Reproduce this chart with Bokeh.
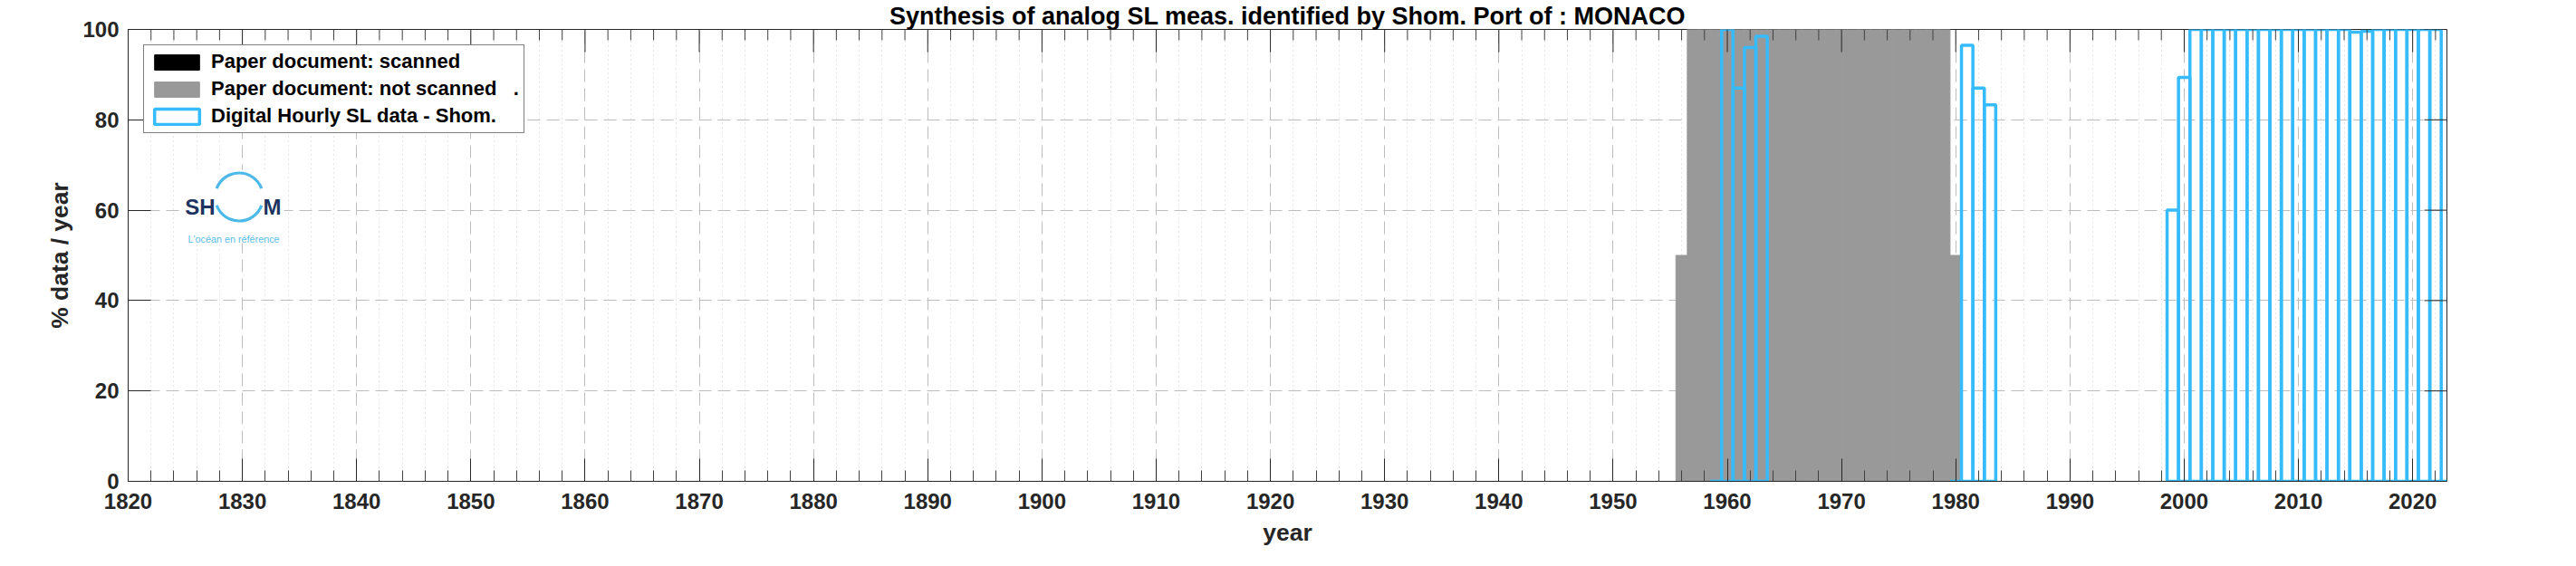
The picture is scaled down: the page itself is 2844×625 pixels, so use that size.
from bokeh.plotting import figure
from bokeh.models import FixedTicker, Range1d, Legend, LegendItem
from bokeh.core.properties import value
from bokeh.embed import file_html
from bokeh.resources import INLINE

# ---------------- data ----------------
title_text = "Synthesis of analog SL meas. identified by Shom. Port of : MONACO"
x_label = "year"
y_label = "% data / year"
legend_labels = ["Paper document: scanned",
                 "Paper document: not scanned\u00a0\u00a0\u00a0.",
                 "Digital Hourly SL data - Shom."]

scanned_years = []
scanned_pct = []

not_scanned_years = [1956, 1957, 1958, 1959, 1960, 1961, 1962, 1963, 1964, 1965,
                     1966, 1967, 1968, 1969, 1970, 1971, 1972, 1973, 1974, 1975,
                     1976, 1977, 1978, 1979, 1980]
not_scanned_pct = [50, 100, 100, 100, 100, 100, 100, 100, 100, 100,
                   100, 100, 100, 100, 100, 100, 100, 100, 100, 100,
                   100, 100, 100, 100, 50]

digital_years = [1959, 1960, 1961, 1962, 1963,
                 1980, 1981, 1982, 1983,
                 1999, 2000, 2001, 2002, 2003, 2004, 2005, 2006, 2007, 2008,
                 2009, 2010, 2011, 2012, 2013, 2014, 2015, 2016, 2017, 2018,
                 2019, 2020, 2021, 2022, 2023]
digital_pct = [0, 100, 87, 96, 98.5,
               0, 96.5, 87, 83.3,
               60, 89.4, 100, 100, 100, 100, 100, 100, 100, 100,
               100, 100, 100, 100, 100, 100, 99.4, 99.6, 100, 100,
               100, 100, 100, 100, 0]

x_major_ticks = [1820, 1830, 1840, 1850, 1860, 1870, 1880, 1890, 1900, 1910,
                 1920, 1930, 1940, 1950, 1960, 1970, 1980, 1990, 2000, 2010, 2020]
x_minor_ticks = [y for y in range(1822, 2023, 2) if y % 10 != 0]
y_ticks = [0, 20, 40, 60, 80, 100]
X0, X1 = 1820, 2023
Y0, Y1 = 0, 100

# ---------------- styling ----------------
FONT = "Liberation Sans"
AX = "#262626"
BLUE = "#36BCFD"
GRAY = "#999999"
FW, FH = 2560, 499
PL, PT = 141, 31   # page position of the frame
MAJ_LEN, MIN_LEN = 25, 12


def xd(px):
    return X0 + (px - PL) / FW * (X1 - X0)


def yd(py):
    return Y0 + (PT + FH - py) / FH * (Y1 - Y0)


p = figure(frame_width=FW, frame_height=FH,
           x_range=Range1d(X0, X1), y_range=Range1d(Y0, Y1),
           output_backend="svg", toolbar_location=None,
           min_border_left=PL, min_border_right=135,
           min_border_top=PT, min_border_bottom=90)
p.outline_line_color = AX
p.outline_line_width = 1

p.title.text = title_text
p.title.align = "center"
p.title.text_font = FONT
p.title.text_font_style = "bold"
p.title.text_font_size = "27px"
p.title.text_color = "black"
p.title.standoff = 0
p.title.offset = 0

xt = FixedTicker(ticks=x_major_ticks, minor_ticks=x_minor_ticks)
yt = FixedTicker(ticks=y_ticks)


def style_axis(ax):
    ax.axis_line_color = AX
    ax.major_tick_line_color = AX
    ax.minor_tick_line_color = "#404040"
    ax.major_tick_out = 0
    ax.minor_tick_out = 0
    ax.major_label_text_font = FONT
    ax.major_label_text_font_style = "bold"
    ax.major_label_text_color = AX
    ax.major_label_text_font_size = "24px"
    ax.axis_label_text_font = FONT
    ax.axis_label_text_font_style = "bold"
    ax.axis_label_text_color = AX
    ax.axis_label_text_font_size = "26.4px"


xa = p.xaxis[0]
xa.ticker = xt
style_axis(xa)
xa.major_tick_in = MAJ_LEN
xa.minor_tick_in = MIN_LEN
xa.major_label_standoff = 13
xa.axis_label = x_label
xa.axis_label_standoff = 8

ya = p.yaxis[0]
ya.ticker = yt
style_axis(ya)
ya.major_tick_in = MAJ_LEN
ya.minor_tick_in = 0
ya.major_label_standoff = 10
ya.axis_label = y_label
ya.axis_label_standoff = 7

# grids
p.xgrid.ticker = xt
p.xgrid.grid_line_color = "#bdbdbd"
p.xgrid.grid_line_dash = "14 7"
p.xgrid.minor_grid_line_color = "#cfcfcf"
p.xgrid.minor_grid_line_dash = "1 4"
p.ygrid.ticker = FixedTicker(ticks=[20, 40, 60, 80])
p.ygrid.grid_line_color = "#bdbdbd"
p.ygrid.grid_line_dash = "14 7"

# logo (white backing box, ring, letters)
p.quad(left=[xd(199)], right=[xd(313)], top=[yd(186)], bottom=[yd(267)],
       fill_color="white", line_color=None)
p.arc(x=[xd(263.5), xd(263.5)], y=[yd(216), yd(216)], radius=26.5,
      radius_units="screen", start_angle=[0.36, 3.50], end_angle=[2.78, 5.92],
      line_color="#4cb9e8", line_width=3.2)
p.text(x=[xd(237)], y=[yd(227)], text=["SH"], text_align="right",
       text_baseline="alphabetic", text_font=value(FONT), text_font_style="bold",
       text_font_size="24px", text_color="#1d3461")
p.text(x=[xd(290)], y=[yd(227)], text=["M"], text_align="left",
       text_baseline="alphabetic", text_font=value(FONT), text_font_style="bold",
       text_font_size="24px", text_color="#1d3461")
p.text(x=[xd(257.5)], y=[yd(262)], text=["L'océan en référence"], text_align="center",
       text_baseline="alphabetic", text_font=value(FONT),
       text_font_size="10.8px", text_color="#5bbde6")

# bars ("scanned" has no data: a NaN placeholder keeps its legend swatch visible)
sx = scanned_years if scanned_years else [float("nan")]
sy = scanned_pct if scanned_pct else [float("nan")]
r_scanned = p.vbar(x=sx, top=sy, width=1, bottom=0,
                   fill_color="black", line_color="black")
r_not = p.vbar(x=not_scanned_years, top=not_scanned_pct, width=1, bottom=0,
               fill_color=GRAY, line_color=GRAY, line_width=1)
r_dig = p.vbar(x=digital_years, top=digital_pct, width=1, bottom=0,
               fill_alpha=0, line_color=BLUE, line_width=3.5)

# inward ticks on the top and right edges of the box
ty_maj = Y1 - MAJ_LEN / FH * (Y1 - Y0)
ty_min = Y1 - MIN_LEN / FH * (Y1 - Y0)
p.segment(x0=x_major_ticks, x1=x_major_ticks, y0=[Y1] * len(x_major_ticks),
          y1=[ty_maj] * len(x_major_ticks), line_color=AX, line_width=1)
p.segment(x0=x_minor_ticks, x1=x_minor_ticks, y0=[Y1] * len(x_minor_ticks),
          y1=[ty_min] * len(x_minor_ticks), line_color="#404040", line_width=1)
rx = X1 - MAJ_LEN / FW * (X1 - X0)
p.segment(x0=[X1] * len(y_ticks), x1=[rx] * len(y_ticks), y0=y_ticks, y1=y_ticks,
          line_color=AX, line_width=1)

legend = Legend(items=[LegendItem(label=legend_labels[0], renderers=[r_scanned]),
                       LegendItem(label=legend_labels[1], renderers=[r_not]),
                       LegendItem(label=legend_labels[2], renderers=[r_dig])],
                location="top_left")
legend.margin = 17
legend.padding = 5
legend.spacing = 4
legend.glyph_width = 62
legend.glyph_height = 21
legend.label_standoff = 7
legend.label_text_font = FONT
legend.label_text_font_style = "bold"
legend.label_text_font_size = "22px"
legend.label_text_color = "black"
legend.border_line_color = "black"
legend.border_line_width = 1
legend.background_fill_color = "white"
legend.background_fill_alpha = 1
p.add_layout(legend)

open("out.html", "w").write(file_html(p, INLINE))
